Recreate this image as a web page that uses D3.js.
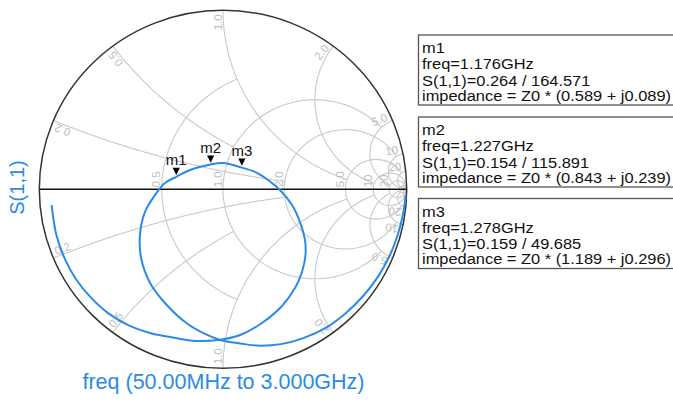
<!DOCTYPE html>
<html><head><meta charset="utf-8">
<script src="https://cdn.jsdelivr.net/npm/d3@7"></script>
<style>
body{margin:0;background:#fff;}
svg{display:block;font-family:Arial,"Liberation Sans",sans-serif;}
</style>
</head><body>
<svg id="chart" width="673" height="403"></svg>
<script>
// ---- data ----
const freqGHz = [0.05,0.12,0.20,0.27,0.34,0.41,0.48,0.55,0.61,0.67,0.73,0.79,0.84,
  0.88,0.92,0.96,1.00,1.04,1.07,1.10,1.13,1.155,1.176,1.20,1.227,1.25,1.278,1.30,1.32,1.345,1.37,1.40,1.43,1.46,1.49,1.52,1.56,1.60,1.65,1.70,
  1.78,1.90,2.02,2.14,2.28,2.42,2.56,2.72,2.86,3.00];
const s11Re = [0.994,0.980,0.951,0.909,0.844,0.763,0.668,0.561,0.441,0.315,0.186,0.093,-0.005,
  -0.098,-0.207,-0.316,-0.397,-0.446,-0.452,-0.425,-0.370,-0.316,-0.254,-0.180,-0.067,0.000,0.103,0.174,0.245,0.310,0.376,0.419,0.446,0.449,0.430,0.392,0.321,0.212,0.093,-0.027,
  -0.149,-0.269,-0.392,-0.513,-0.624,-0.720,-0.801,-0.863,-0.906,-0.933];
const s11Im = [-0.035,-0.138,-0.255,-0.367,-0.488,-0.596,-0.692,-0.773,-0.830,-0.865,-0.873,-0.861,-0.845,
  -0.808,-0.741,-0.635,-0.523,-0.384,-0.255,-0.127,-0.032,0.035,0.070,0.108,0.139,0.147,0.121,0.097,0.052,-0.004,-0.088,-0.183,-0.283,-0.367,-0.462,-0.552,-0.652,-0.747,-0.814,-0.842,
  -0.847,-0.829,-0.804,-0.760,-0.693,-0.604,-0.501,-0.384,-0.260,-0.088];

const markerNames = ["m1","m2","m3"];
const markerFreq = ["1.176GHz","1.227GHz","1.278GHz"];
const markerMag = [0.264,0.154,0.159];
const markerAng = [164.571,115.891,49.685];
const markerZre = [0.589,0.843,1.189];
const markerZim = [0.089,0.239,0.296];

const rValues = [0.5,1,2,5,10,20,50];
const rLimits = [1,5,10,20,50,Infinity,Infinity];
const xValues = [0.2,0.5,1,2,5,10,20,50];
const xLimits = [2,1,5,10,20,50,Infinity,Infinity];
const axisLabelValues = [0.5,1,2,5,10,20];
const axisLabels = ["0.5","1.0","2.0","5.0","10","20"];
const rimLabelValues = [0.2,0.5,1,2,5,10,20];
const rimLabels = ["0.2","0.5","1.0","2.0","5.0","10","20"];

const yTitle = "S(1,1)";
const xTitle = "freq (50.00MHz to 3.000GHz)";

// ---- drawing ----
const svg = d3.select("#chart");
const xs = d3.scaleLinear().domain([-1,1]).range([39.3,406.7]);
const ys = d3.scaleLinear().domain([-1,1]).range([368.3,10.3]);
const gridColor = "#c9c9c9", labelColor = "#bdbdbd", blue = "#2a8be6";

function gamma(r, x){
  const den = (r+1)*(r+1) + x*x;
  return [(r*r + x*x - 1)/den, 2*x/den];
}
const line = d3.line().x(d=>xs(d[0])).y(d=>ys(d[1]));
const N = 300;

const grid = svg.append("g").attr("fill","none").attr("stroke",gridColor).attr("stroke-width",1.1);
rValues.forEach((r,i)=>{
  const tm = Math.atan(rLimits[i]);
  const pts = d3.range(N+1).map(k=>{const t=-tm+2*tm*k/N; return gamma(r, Math.tan(t));});
  grid.append("path").attr("d", line(pts));
});
xValues.forEach((x,i)=>{
  const tm = Math.atan(xLimits[i]);
  [1,-1].forEach(s=>{
    const pts = d3.range(N+1).map(k=>{const t=tm*k/N; return gamma(Math.tan(t), s*x);});
    grid.append("path").attr("d", line(pts));
  });
});

// grid labels
const lab = svg.append("g").attr("fill",labelColor).style("font-size","11.5px");
const cx = xs(0), cy = ys(0);
axisLabelValues.forEach((r,i)=>{
  const px = xs((r-1)/(r+1));
  lab.append("text").attr("transform",`translate(${px-1.5},${cy-2}) rotate(-90)`)
    .attr("text-anchor","start").text(axisLabels[i]);
});
rimLabelValues.forEach((v,i)=>{
  [1,-1].forEach(s=>{
    const g = gamma(0, s*v);
    const px = xs(g[0]), py = ys(g[1]);
    const dx = px-cx, dy = py-cy, L = Math.hypot(dx,dy);
    const ax = px - dx/L*4, ay = py - dy/L*4;
    let phi = Math.atan2(dy,dx)*180/Math.PI;
    let anchor = "end";
    if (s < 0){ phi += 180; anchor = "start"; }
    const pr = phi*Math.PI/180;
    const ux = Math.sin(pr), uy = -Math.cos(pr);
    lab.append("text").attr("transform",`translate(${ax+ux*1.5},${ay+uy*1.5}) rotate(${phi})`)
      .attr("text-anchor",anchor).text(rimLabels[i]);
  });
});

// real axis & outer circle
svg.append("line").attr("x1",xs(-1)).attr("x2",xs(1)).attr("y1",cy).attr("y2",cy)
  .attr("stroke","#111").attr("stroke-width",1.6);
svg.append("ellipse").attr("cx",cx).attr("cy",cy).attr("rx",xs(1)-cx).attr("ry",cy-ys(1))
  .attr("fill","none").attr("stroke","#333").attr("stroke-width",1.5);

// trace
const trace = freqGHz.map((f,i)=>[s11Re[i], s11Im[i]]);
svg.append("path").attr("d", d3.line().x(d=>xs(d[0])).y(d=>ys(d[1])).curve(d3.curveCatmullRom.alpha(0.5))(trace))
  .attr("fill","none").attr("stroke",blue).attr("stroke-width",2);

// markers
markerNames.forEach((m,i)=>{
  const a = markerAng[i]*Math.PI/180;
  const px = xs(markerMag[i]*Math.cos(a)), py = ys(markerMag[i]*Math.sin(a));
  svg.append("path").attr("d",`M${px-3.6},${py-9}L${px+3.6},${py-9}L${px},${py-1.8}Z`).attr("fill","#000");
  svg.append("text").attr("x",px).attr("y",py-12).attr("text-anchor","middle")
    .style("font-size","15px").attr("fill","#111").text(m);
});

// legend boxes
const boxTops = [35,117,198.5];
markerNames.forEach((m,i)=>{
  const g = svg.append("g");
  g.append("rect").attr("x",418.5).attr("y",boxTops[i]).attr("width",300).attr("height",70)
    .attr("fill","#fff").attr("stroke","#555").attr("stroke-width",1.3);
  const lines = [m, `freq=${markerFreq[i]}`,
    `S(1,1)=${markerMag[i].toFixed(3)} / ${markerAng[i].toFixed(3)}`,
    `impedance = Z0 * (${markerZre[i].toFixed(3)} + j${markerZim[i].toFixed(3)})`];
  const offs = [18,34.3,50.5,65.5];
  lines.forEach((t,k)=>{
    g.append("text").attr("transform",`translate(422,${boxTops[i]+offs[k]}) scale(1.19,1)`)
      .style("font-size","13.8px").attr("fill","#111").text(t);
  });
});

// titles
svg.append("text").attr("transform",`translate(24,187.5) rotate(-90)`).attr("text-anchor","middle")
  .style("font-size","20px").attr("fill",blue).text(yTitle);
svg.append("text").attr("x",223.5).attr("y",389).attr("text-anchor","middle")
  .style("font-size","21.5px").attr("fill",blue).text(xTitle);
</script>
</body></html>
